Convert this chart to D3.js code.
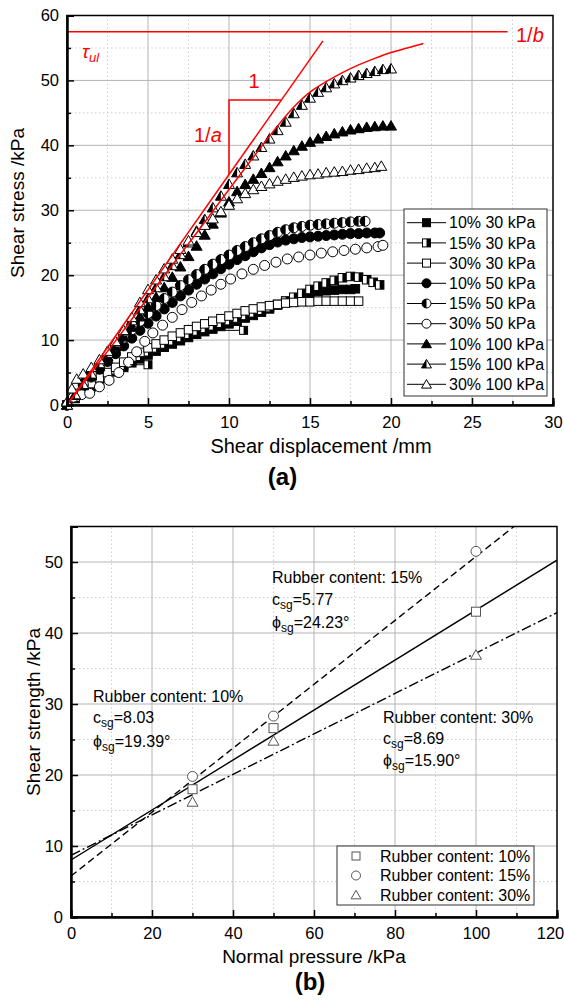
<!DOCTYPE html>
<html><head><meta charset="utf-8">
<script src="https://cdn.jsdelivr.net/npm/d3@7"></script>
<style>
body{margin:0;background:#fff}
svg{display:block}
text{font-family:"Liberation Sans",Arial,sans-serif;fill:#000}
</style>
</head><body>
<svg id="c" width="564" height="1000"></svg>
<script>
// ---------------- Panel (a) data ----------------
const legendA = ["10% 30 kPa","15% 30 kPa","30% 30 kPa","10% 50 kPa","15% 50 kPa","30% 50 kPa","10% 100 kPa","15% 100 kPa","30% 100 kPa"];
const shapesA = ["square","square","square","circle","circle","circle","triangle","triangle","triangle"];
const fillsA  = ["full","half","open","full","half","open","full","half","open"];

const s10_30 = [[0,0],[0.5,1],[1,2],[1.5,2.8],[2,3.6],[2.5,4.4],[3,5.1],[3.5,5.8],[4,6.5],[4.5,7.1],[5,7.7],[5.5,8.3],[6,8.9],[6.5,9.4],[7,9.9],[7.5,10.4],[8,10.9],[8.5,11.3],[9,11.7],[9.5,12.1],[10,12.5],[10.5,12.9],[11,13.4],[11.5,13.8],[12,14.3],[12.5,14.8],[13,15.4],[13.5,16],[14,16.5],[14.5,17],[15,17.3],[15.5,17.5],[16,17.6],[16.5,17.7],[17,17.8],[17.5,17.8],[17.8,17.9]];
const s15_30 = [[0,0],[0.5,1.1],[1,2.1],[1.5,3],[2,3.8],[2.5,4.6],[3,5.4],[3.5,6.1],[4,6.8],[4.5,7.5],[5,8.2],[5.5,8.8],[6,9.4],[6.5,9.9],[7,10.4],[7.5,10.9],[8,11.4],[8.5,11.8],[9,12.2],[9.5,12.6],[10,13],[10.5,13.4],[11,13.8],[11.5,14.2],[12,14.6],[12.5,15],[13,15.5],[13.5,16],[14,16.6],[14.5,17.2],[15,17.8],[15.5,18.3],[16,18.8],[16.5,19.2],[17,19.6],[17.5,19.8],[18,19.7],[18.5,19.3],[18.9,18.9],[19.3,18.5]];
const s30_30 = [[0,0],[0.5,1.2],[1,2.3],[1.5,3.3],[2,4.2],[2.5,5],[3,5.8],[3.5,6.6],[4,7.4],[4.5,8.1],[5,8.8],[5.5,9.4],[6,10],[6.5,10.6],[7,11.1],[7.5,11.6],[8,12.1],[8.5,12.5],[9,12.9],[9.5,13.3],[10,13.7],[10.5,14.1],[11,14.5],[11.5,14.8],[12,15.1],[12.5,15.3],[13,15.5],[13.5,15.7],[14,15.8],[14.5,15.9],[15,15.9],[15.5,16],[16,16],[16.5,16],[17,16],[17.5,16],[18,16]];
const s10_50 = [[0,0],[0.5,1.5],[1,3],[1.5,4.3],[2,5.5],[2.5,6.7],[3,7.9],[3.5,9.1],[4,10.3],[4.5,11.5],[5,12.6],[5.5,13.7],[6,14.8],[6.5,15.8],[7,16.8],[7.5,17.7],[8,18.6],[8.5,19.4],[9,20.2],[9.5,21],[10,21.7],[10.5,22.4],[11,23],[11.5,23.6],[12,24.2],[12.5,24.7],[13,25.1],[13.5,25.4],[14,25.6],[14.5,25.8],[15,25.9],[15.5,26],[16,26.1],[16.5,26.2],[17,26.3],[17.5,26.4],[18,26.4],[18.5,26.5],[19,26.5],[19.3,26.5]];
const s15_50 = [[0,0],[0.5,1.7],[1,3.3],[1.5,4.8],[2,6.2],[2.5,7.6],[3,9],[3.5,10.3],[4,11.6],[4.5,12.9],[5,14.1],[5.5,15.3],[6,16.4],[6.5,17.4],[7,18.4],[7.5,19.3],[8,20.1],[8.5,20.9],[9,21.7],[9.5,22.4],[10,23.1],[10.5,23.8],[11,24.4],[11.5,25],[12,25.6],[12.5,26.1],[13,26.6],[13.5,27],[14,27.3],[14.5,27.5],[15,27.7],[15.5,27.8],[16,27.9],[16.5,28],[17,28.1],[17.5,28.2],[18,28.3],[18.4,28.3]];
const s30_50 = [[0,0],[0.4,1.2],[0.9,1.6],[1.4,1.8],[2,2.8],[2.6,3.8],[3.2,5],[3.8,6.6],[4.3,8.2],[4.8,9.8],[5.3,11.1],[5.9,12.3],[6.5,13.5],[7.1,14.7],[7.7,15.8],[8.3,16.8],[8.9,17.7],[9.5,18.6],[10.1,19.4],[10.8,20.2],[11.5,20.9],[12.2,21.5],[12.9,22],[13.6,22.5],[14.3,22.8],[15,23.1],[15.7,23.4],[16.4,23.6],[17.1,23.8],[17.8,24],[18.5,24.2],[19.2,24.4],[19.5,24.6]];
const s10_100 = [[0,0],[0.5,1.5],[1,3],[1.5,4.5],[2,6],[2.5,7.5],[3,9],[3.5,10.5],[4,12],[4.5,13.6],[5,15.1],[5.5,16.6],[6,18.1],[6.5,19.7],[7,21.3],[7.5,22.9],[8,24.5],[8.5,26.2],[9,27.9],[9.5,29.6],[10,31.3],[10.5,32.9],[11,34],[11.5,34.8],[12,35.7],[12.5,36.6],[13,37.5],[13.5,38.4],[14,39.2],[14.5,39.9],[15,40.5],[15.5,41],[16,41.4],[16.5,41.8],[17,42.1],[17.5,42.4],[18,42.6],[18.5,42.8],[19,42.9],[19.5,43],[20,43]];
const s15_100 = [[0,0],[0.5,1.6],[1,3.2],[1.5,4.8],[2,6.4],[2.5,8],[3,9.6],[3.5,11.3],[4,13],[4.5,14.7],[5,16.4],[5.5,18.1],[6,19.8],[6.5,21.5],[7,23.2],[7.5,25],[8,26.8],[8.5,28.6],[9,30.4],[9.5,32.2],[10,34],[10.5,35.8],[11,37.1],[11.5,38.4],[12,39.7],[12.5,41],[13,42.3],[13.5,43.6],[14,44.9],[14.5,46.2],[15,47.3],[15.5,48.2],[16,48.9],[16.5,49.5],[17,50],[17.5,50.4],[18,50.8],[18.5,51.1],[19,51.4],[19.5,51.7],[20,51.8]];
const s30_100 = [[0,0.5],[0.3,2.5],[0.6,4],[1,4.8],[1.5,5.8],[2,7],[2.5,8.3],[3,9.8],[3.5,11.5],[4,13.5],[4.5,15.8],[5,17.8],[5.5,19.3],[6,21],[6.5,22.5],[7,24],[7.5,25.3],[8,26.6],[8.5,27.7],[9,28.7],[9.5,29.8],[10,30.8],[10.5,31.8],[11,32.6],[11.5,33.2],[12,33.7],[12.5,34.1],[13,34.5],[13.5,34.8],[14,35.1],[14.5,35.3],[15,35.5],[15.5,35.6],[16,35.8],[16.5,35.9],[17,36],[17.5,36.2],[18,36.3],[18.5,36.5],[19,36.6],[19.4,36.8]];
const seriesA = [s10_30,s15_30,s30_30,s10_50,s15_50,s30_50,s10_100,s15_100,s30_100];

// stray legend-like glyphs inside plot (a): [x, y]
const strayA = [[5.0,6.2],[10.9,11.5]];

// red model lines of (a)
const tangentA = [[0,0],[15.8,56.1]];
const hyperbolaA = [[0,0],[2,6.6],[4,13.2],[6,19.9],[8,26.5],[10,33.2],[12,39.8],[13,43],[14,45.9],[15,48.2],[16,49.8],[17,51.2],[18,52.4],[19,53.4],[20,54.3],[21,55],[22,55.7]];
const ultimateA = [[0,57.5],[27.2,57.5]];
const triA = [[10,35.5],[10,47],[13.25,47]];

const xTicksA = [0,5,10,15,20,25,30];
const yTicksA = [0,10,20,30,40,50,60];

// ---------------- Panel (b) data ----------------
const pressures = [30,50,100];
const strength10 = [18.0,26.6,43.0];
const strength15 = [19.8,28.3,51.5];
const strength30 = [16.2,24.8,36.9];
const cohesion = [8.03,5.77,8.69];
const frictionDeg = [19.39,24.23,15.90];
const legendB = ["Rubber content: 10%","Rubber content: 15%","Rubber content: 30%"];
const xTicksB = [0,20,40,60,80,100,120];
const yTicksB = [0,10,20,30,40,50];

const svg = d3.select("#c");
const FONT = '"Liberation Sans",Arial,sans-serif';

function marker(g, shape, fill, size, stroke){
  const h = size/2;
  const fc = fill==="full" ? "#000" : "#fff";
  if(shape==="square"){
    g.append("rect").attr("x",-h).attr("y",-h).attr("width",size).attr("height",size)
      .attr("fill",fc).attr("stroke",stroke).attr("stroke-width",1);
    if(fill==="half") g.append("rect").attr("x",0).attr("y",-h).attr("width",h).attr("height",size).attr("fill","#000");
  } else if(shape==="circle"){
    g.append("circle").attr("r",h).attr("fill",fc).attr("stroke",stroke).attr("stroke-width",1);
    if(fill==="half") g.append("path").attr("d",`M0,${-h}A${h},${h} 0 0 0 0,${h}Z`).attr("fill","#000");
  } else {
    const t=-h*1.05, b=h*0.85, w=h*1.1;
    g.append("path").attr("d",`M0,${t}L${w},${b}L${-w},${b}Z`).attr("fill",fc).attr("stroke",stroke).attr("stroke-width",1).attr("stroke-linejoin","miter");
    if(fill==="half") g.append("path").attr("d",`M0,${t}L0,${b}L${-w},${b}Z`).attr("fill","#000");
  }
}

function frame(g, x, y, xMajor, xMinor, yMajor, yMinor){
  const [x0,x1]=x.range(), [y0,y1]=y.range();
  g.append("g").selectAll("line").data(xMinor).join("line")
    .attr("x1",d=>x(d)).attr("x2",d=>x(d)).attr("y1",y0).attr("y2",y1)
    .attr("stroke","#cfcfcf").attr("stroke-dasharray","1.5,2.5").attr("stroke-width",1);
  g.append("g").selectAll("line").data(yMinor).join("line")
    .attr("y1",d=>y(d)).attr("y2",d=>y(d)).attr("x1",x0).attr("x2",x1)
    .attr("stroke","#cfcfcf").attr("stroke-dasharray","1.5,2.5").attr("stroke-width",1);
  g.append("g").selectAll("line").data(xMajor.slice(1,-1)).join("line")
    .attr("x1",d=>x(d)).attr("x2",d=>x(d)).attr("y1",y0).attr("y2",y1)
    .attr("stroke","#b4b4b4").attr("stroke-width",1);
  g.append("g").selectAll("line").data(yMajor.slice(1)).join("line")
    .attr("y1",d=>y(d)).attr("y2",d=>y(d)).attr("x1",x0).attr("x2",x1)
    .attr("stroke","#b4b4b4").attr("stroke-width",1);
  g.append("rect").attr("x",x0).attr("y",y1).attr("width",x1-x0).attr("height",y0-y1)
    .attr("fill","none").attr("stroke","#000").attr("stroke-width",1.5);
}

function axes(g, x, y, xMajor, xMinor, yMajor, yMinor, pad){
  const [x0]=x.range(), [y0]=y.range();
  g.append("g").attr("class","xax").attr("transform",`translate(0,${y0})`)
    .call(d3.axisBottom(x).tickValues(xMajor).tickSize(-7).tickPadding(pad.x).tickFormat(d3.format("d")));
  g.append("g").attr("transform",`translate(0,${y0})`)
    .call(d3.axisBottom(x).tickValues(xMinor).tickSize(-4).tickFormat(""));
  g.append("g").attr("transform",`translate(${x0},0)`)
    .call(d3.axisLeft(y).tickValues(yMajor).tickSize(-7).tickPadding(pad.y).tickFormat(d3.format("d")));
  g.append("g").attr("transform",`translate(${x0},0)`)
    .call(d3.axisLeft(y).tickValues(yMinor).tickSize(-4).tickFormat(""));
  g.selectAll(".domain").attr("stroke","#000").attr("stroke-width",2);
  g.selectAll(".tick line").attr("stroke","#000").attr("stroke-width",1.5);
  g.selectAll(".tick text").attr("font-family",FONT).attr("font-size",16.5).attr("fill","#000");
}

// ================= Panel (a) =================
const xA = d3.scaleLinear([0,30],[67,553]);
const yA = d3.scaleLinear([0,60],[405,15.5]);
const gA = svg.append("g");
frame(gA,xA,yA,xTicksA,d3.range(2.5,30,5),yTicksA,d3.range(5,60,10));

seriesA.forEach((pts,i)=>{
  const sz = shapesA[i]==="square"?8.5:10;
  gA.append("g").selectAll("g").data(pts).join("g")
    .attr("transform",d=>`translate(${xA(d[0])},${yA(d[1])})`)
    .each(function(){ marker(d3.select(this),shapesA[i],fillsA[i],sz,"#000"); });
});
const stray = gA.append("g").selectAll("g").data(strayA).join("g")
  .attr("transform",d=>`translate(${xA(d[0])},${yA(d[1])})`);
stray.append("line").attr("x1",-18).attr("x2",-4).attr("y1",0).attr("y2",0).attr("stroke","#000").attr("stroke-width",1);
stray.each(function(){ marker(d3.select(this),"square","half",8,"#000"); });

const red = "#ff0000";
const lineA = d3.line().x(d=>xA(d[0])).y(d=>yA(d[1]));
const curveA = d3.line().x(d=>xA(d[0])).y(d=>yA(d[1])).curve(d3.curveMonotoneX);
gA.append("path").attr("d",lineA(ultimateA)).attr("stroke",red).attr("fill","none").attr("stroke-width",1.5);
gA.append("path").attr("d",lineA(tangentA)).attr("stroke",red).attr("fill","none").attr("stroke-width",1.5);
gA.append("path").attr("d",curveA(hyperbolaA)).attr("stroke",red).attr("fill","none").attr("stroke-width",1.5);
gA.append("path").attr("d",lineA(triA)).attr("stroke",red).attr("fill","none").attr("stroke-width",1.5);

axes(gA,xA,yA,xTicksA,d3.range(2.5,30,5),yTicksA,d3.range(5,60,10),{x:11,y:8});

const tau = gA.append("text").attr("x",82).attr("y",58).attr("font-size",19).attr("fill",red).style("fill",red);
tau.append("tspan").attr("font-style","italic").text("τ");
tau.append("tspan").attr("font-style","italic").attr("font-size",13).attr("dy",4).text("ul");
const ob = gA.append("text").attr("x",516).attr("y",42).attr("font-size",20).style("fill",red);
ob.append("tspan").text("1/");
ob.append("tspan").attr("font-style","italic").text("b");
gA.append("text").attr("x",254).attr("y",88).attr("text-anchor","middle").attr("font-size",20).style("fill",red).text("1");
const oa = gA.append("text").attr("x",194).attr("y",142).attr("font-size",20).style("fill",red);
oa.append("tspan").text("1/");
oa.append("tspan").attr("font-style","italic").text("a");

const lgA = gA.append("g");
lgA.append("rect").attr("x",404).attr("y",209).attr("width",143).attr("height",187).attr("fill","#fff").attr("stroke","#333").attr("stroke-width",1);
legendA.forEach((name,i)=>{
  const cy = 222.7 + i*20.2;
  const r = lgA.append("g").attr("transform",`translate(0,${cy})`);
  r.append("line").attr("x1",407).attr("x2",446).attr("y1",0).attr("y2",0).attr("stroke","#000").attr("stroke-width",1);
  const m = r.append("g").attr("transform","translate(426.5,0)");
  marker(m,shapesA[i],fillsA[i],shapesA[i]==="square"?8:9,"#000");
  r.append("text").attr("x",449).attr("y",0).attr("dy","0.36em").attr("font-size",16).text(name);
});

gA.append("text").attr("transform","translate(24,203) rotate(-90)").attr("text-anchor","middle").attr("font-size",19).text("Shear stress /kPa");
gA.append("text").attr("x",321).attr("y",453).attr("text-anchor","middle").attr("font-size",20).text("Shear displacement /mm");
gA.append("text").attr("x",282.5).attr("y",485).attr("text-anchor","middle").attr("font-size",24).attr("font-weight","bold").attr("font-family",'"Liberation Serif","Times New Roman",serif').text("(a)");

// ================= Panel (b) =================
const xB = d3.scaleLinear([0,120],[71,557]);
const yB = d3.scaleLinear([0,55],[917,526.5]);
const gB = svg.append("g");
frame(gB,xB,yB,xTicksB,d3.range(10,120,20),yTicksB,d3.range(5,55,10));

gB.append("clipPath").attr("id","clipB").append("rect").attr("x",71).attr("y",526.5).attr("width",486).attr("height",390.5);
const dashes = [null,"7,4","10,3,2,3"];
const fitX = [0,120];
const fits = gB.append("g").attr("clip-path","url(#clipB)");
cohesion.forEach((c,i)=>{
  const k = Math.tan(frictionDeg[i]*Math.PI/180);
  fits.append("path")
    .attr("d",d3.line().x(d=>xB(d)).y(d=>yB(c+k*d))(fitX))
    .attr("stroke","#000").attr("stroke-width",1.4).attr("fill","none")
    .attr("stroke-dasharray",dashes[i]);
});
const shapesB = ["square","circle","triangle"];
[strength10,strength15,strength30].forEach((vals,i)=>{
  gB.append("g").selectAll("g").data(vals).join("g")
    .attr("transform",(d,j)=>`translate(${xB(pressures[j])},${yB(d)})`)
    .each(function(){ marker(d3.select(this),shapesB[i],"open",shapesB[i]==="square"?9:10,"#555"); });
});

axes(gB,xB,yB,xTicksB,d3.range(10,120,20),yTicksB,d3.range(5,55,10),{x:10,y:8});
// keep the last x label ("120") inside the page edge
gB.selectAll(".xax .tick text").filter(d=>d===120).attr("dx",-7);

function block(x, ys, title, c, phi){
  gB.append("text").attr("x",x).attr("y",ys[0]).attr("font-size",16).text(title);
  const t1 = gB.append("text").attr("x",x).attr("y",ys[1]).attr("font-size",16);
  t1.append("tspan").text("c");
  t1.append("tspan").attr("font-size",12).attr("dy",4).text("sg");
  t1.append("tspan").attr("dy",-4).text("="+c);
  const t2 = gB.append("text").attr("x",x).attr("y",ys[2]).attr("font-size",16);
  t2.append("tspan").text("ϕ");
  t2.append("tspan").attr("font-size",12).attr("dy",4).text("sg");
  t2.append("tspan").attr("dy",-4).text("="+phi+"°");
}
block(93,[702,723,747],"Rubber content: 10%","8.03","19.39");
block(272,[583,605,628],"Rubber content: 15%","5.77","24.23");
block(383,[723,744,766],"Rubber content: 30%","8.69","15.90");

const lgB = gB.append("g");
lgB.append("rect").attr("x",337).attr("y",846).attr("width",197).attr("height",59).attr("fill","#fff").attr("stroke","#333").attr("stroke-width",1);
legendB.forEach((name,i)=>{
  const cy = 856 + i*19.5;
  const m = lgB.append("g").attr("transform",`translate(356,${cy})`);
  marker(m,shapesB[i],"open",shapesB[i]==="square"?8:9,"#555");
  lgB.append("text").attr("x",380).attr("y",cy).attr("dy","0.36em").attr("font-size",16).text(name);
});

gB.append("text").attr("transform","translate(40,712) rotate(-90)").attr("text-anchor","middle").attr("font-size",19).text("Shear strength /kPa");
gB.append("text").attr("x",314).attr("y",963).attr("text-anchor","middle").attr("font-size",19).text("Normal pressure /kPa");
gB.append("text").attr("x",310).attr("y",990).attr("text-anchor","middle").attr("font-size",24).attr("font-weight","bold").attr("font-family",'"Liberation Serif","Times New Roman",serif').text("(b)");
</script>
</body></html>
